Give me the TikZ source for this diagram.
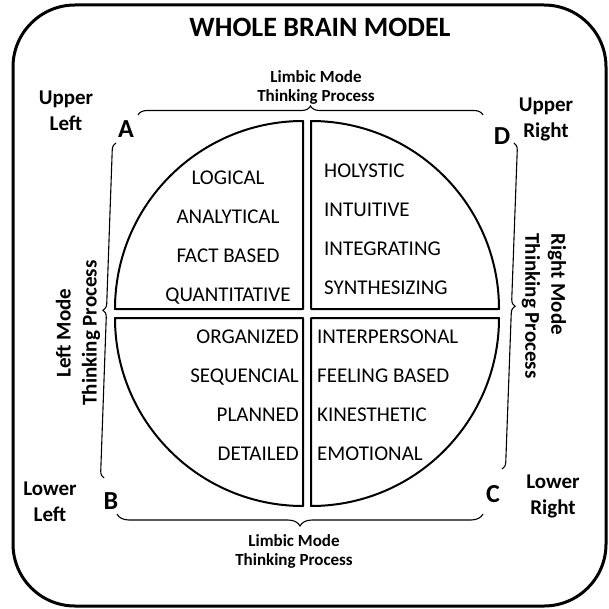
\documentclass[tikz,border=0pt]{standalone}
\usepackage{fontspec}
\setmainfont{Carlito}
\usetikzlibrary{decorations.pathreplacing, positioning}

\begin{document}
\begin{tikzpicture}[x=1pt, y=-1pt]
    \tikzstyle{quadrant} = [draw, line width=2pt, line join=round]
    \tikzstyle{brace} = [draw, line width=1.1pt, decorate, decoration={brace, amplitude=8pt}]
    \tikzstyle{words} = [inner sep=0pt, font=\fontsize{21}{39}\selectfont]
    \tikzstyle{corner} = [inner sep=0pt, align=center, font=\bfseries\fontsize{21}{26}\selectfont]
    \tikzstyle{letter} = [inner sep=0pt, anchor=base, font=\bfseries\fontsize{26}{30}\selectfont]
    \tikzstyle{mode} = [inner sep=0pt, font=\bfseries\fontsize{21}{26}\selectfont]
    \tikzstyle{limbic} = [inner sep=0pt, anchor=north, align=center, font=\bfseries\fontsize{17}{19}\selectfont]

    \useasboundingbox (0,0) rectangle (608,609);
    \draw[line width=3pt, rounded corners=62pt] (13,5) rectangle (606,606);

    \node[inner sep=0pt, anchor=base, font=\bfseries\fontsize{28}{32}\selectfont] (title) at (320,37) {WHOLE BRAIN MODEL};

    % the four quarters
    \draw[quadrant] (303,309) -- ++(-188,0) arc[start angle=180, end angle=270, radius=188] -- cycle;
    \draw[quadrant] (311,309) -- ++(0,-188) arc[start angle=270, end angle=360, radius=188] -- cycle;
    \draw[quadrant] (303,318) -- ++(-188,0) arc[start angle=180, end angle=90, radius=188] -- cycle;
    \draw[quadrant] (311,318) -- ++(188,0) arc[start angle=0, end angle=90, radius=188] -- cycle;

    \node[words, align=center, anchor=north] (upleft) at (228,171) {LOGICAL\\ANALYTICAL\\FACT BASED\\QUANTITATIVE};
    \node[words, align=left, anchor=north west] (upright) at (324,164) {HOLYSTIC\\INTUITIVE\\INTEGRATING\\SYNTHESIZING};
    \node[words, align=right, anchor=north east] (lowleft) at (299,330) {ORGANIZED\\SEQUENCIAL\\PLANNED\\DETAILED};
    \node[words, align=left, anchor=north west] (lowright) at (317,330) {INTERPERSONAL\\FEELING BASED\\KINESTHETIC\\EMOTIONAL};

    % corners
    \node[corner, anchor=north] (ul) at (66,91) {Upper\\Left};
    \node[corner, anchor=north] (ur) at (546,98) {Upper\\Right};
    \node[corner, anchor=north] (ll) at (50,482) {Lower\\Left};
    \node[corner, anchor=north] (lr) at (553,475) {Lower\\Right};

    \node[letter] (A) at (126,138) {A};
    \node[letter] (D) at (502,145) {D};
    \node[letter] (B) at (111,509) {B};
    \node[letter] (C) at (493,502) {C};

    % modes
    \node[limbic] (limbictop) at (316,70) {Limbic Mode\\Thinking Process};
    \node[limbic] (limbicbot) at (294,534) {Limbic Mode\\Thinking Process};
    \node[mode, rotate=90, align=center] (leftmode) at (78,333) {Left Mode\\Thinking Process};
    \node[mode, rotate=-90, align=left] (rightmode) at (544,306) {Right Mode\\Thinking Process};

    % braces
    \coordinate (topL) at (138,115);
    \coordinate (topR) at (483,115);
    \coordinate (botL) at (117,514);
    \coordinate (botR) at (483,514);
    \coordinate (lftT) at (116,143);
    \coordinate (lftB) at (104,478);
    \coordinate (rgtT) at (514,143);
    \coordinate (rgtB) at (502,469);

    \draw[brace, decoration={amplitude=9pt}] (topL) -- (topR);
    \draw[brace, decoration={amplitude=12pt}] (botR) -- (botL);
    \draw[brace, decoration={amplitude=7pt}] (lftB) -- (lftT);
    \draw[brace, decoration={amplitude=7pt}] (rgtT) -- (rgtB);
\end{tikzpicture}
\end{document}
